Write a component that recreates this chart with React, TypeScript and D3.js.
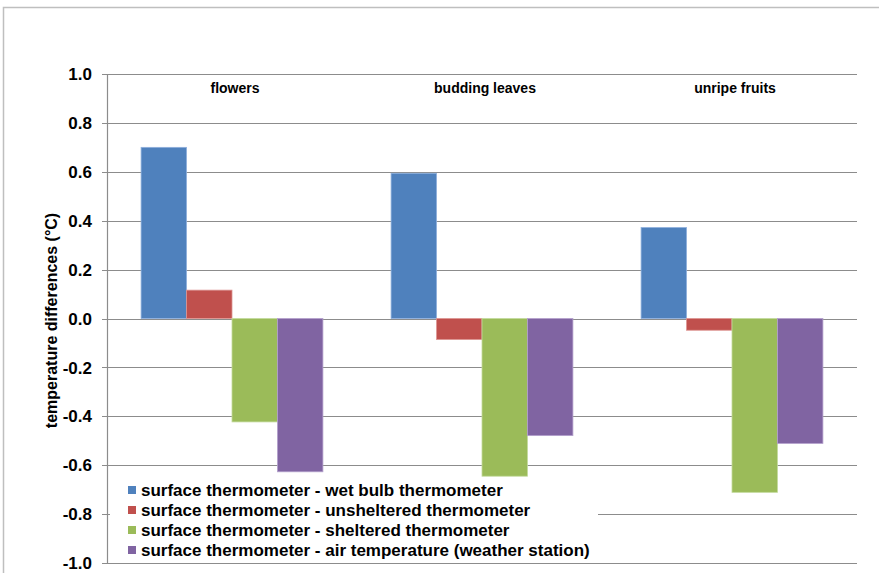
import React, { useEffect, useRef } from "react";
import * as d3 from "d3";

const categories = ["flowers", "budding leaves", "unripe fruits"];
const seriesNames = [
  "surface thermometer - wet bulb thermometer",
  "surface thermometer - unsheltered thermometer",
  "surface thermometer - sheltered thermometer",
  "surface thermometer - air temperature (weather station)",
];
const wetBulb = [0.7, 0.594, 0.372];
const unsheltered = [0.116, -0.086, -0.048];
const sheltered = [-0.423, -0.645, -0.711];
const airTemp = [-0.627, -0.479, -0.511];
const seriesValues = [wetBulb, unsheltered, sheltered, airTemp];
const colors = ["#4F81BD", "#C0504D", "#9BBB59", "#8064A2"];
const strokes = ["#8EAFDC", "#DC9492", "#C3DA9C", "#B3A0CC"];
const yTicks = [1.0, 0.8, 0.6, 0.4, 0.2, 0.0, -0.2, -0.4, -0.6, -0.8, -1.0];
const yLabel = "temperature differences (°C)";

export default function App() {
  const ref = useRef<SVGSVGElement>(null);
  useEffect(() => {
    const svg = d3.select(ref.current);
    svg.selectAll("*").remove();
    const W = 879, H = 573;
    const left = 107, right = 857, top = 74, bottom = 563;
    const font = "Liberation Sans, Arial, sans-serif";

    // outer chart border
    svg.append("rect").attr("x", 3.5).attr("y", 7.5).attr("width", W).attr("height", H)
      .attr("fill", "white").attr("stroke", "#BFBFBF").attr("stroke-width", 1.5);

    const y = d3.scaleLinear().domain([-1, 1]).range([bottom, top]);
    const x0 = d3.scaleBand().domain(categories).range([left, right]).paddingInner(0).paddingOuter(0);
    const x1 = d3.scaleBand().domain(seriesNames).range([0, x0.bandwidth()]).paddingOuter(0.75).paddingInner(0);

    // gridlines
    svg.append("g").selectAll("line").data(yTicks).join("line")
      .attr("x1", left - 5).attr("x2", right)
      .attr("y1", (d) => Math.round(y(d)) + 0.5).attr("y2", (d) => Math.round(y(d)) + 0.5)
      .attr("stroke", "#8C8C8C").attr("stroke-width", 1.2);

    // y axis line
    svg.append("line").attr("x1", left + 0.5).attr("x2", left + 0.5)
      .attr("y1", top).attr("y2", bottom + 1).attr("stroke", "#8C8C8C").attr("stroke-width", 1.2);

    // bars
    const g = svg.append("g");
    seriesValues.forEach((vals, si) => {
      g.selectAll(`rect.s${si}`).data(vals).join("rect")
        .attr("class", `s${si}`)
        .attr("x", (_, i) => (x0(categories[i]) as number) + (x1(seriesNames[si]) as number))
        .attr("width", x1.bandwidth())
        .attr("y", (d) => y(Math.max(0, d)))
        .attr("height", (d) => Math.abs(y(d) - y(0)))
        .attr("fill", colors[si])
        .attr("stroke", strokes[si]).attr("stroke-width", 0.8);
    });

    // tick labels
    svg.append("g").selectAll("text").data(yTicks).join("text")
      .attr("x", 92).attr("y", (d) => y(d)).attr("dy", "0.36em")
      .attr("text-anchor", "end").attr("font-family", font).attr("font-weight", "bold")
      .attr("font-size", 17).attr("fill", "#000")
      .text((d) => d3.format(".1f")(d).replace("\u2212", "-"));

    // y axis label
    svg.append("text").attr("transform", `translate(57,${y(0) + 2}) rotate(-90)`)
      .attr("text-anchor", "middle").attr("font-family", font).attr("font-weight", "bold")
      .attr("font-size", 16).attr("fill", "#000").text(yLabel);

    // category labels
    svg.append("g").selectAll("text").data(categories).join("text")
      .attr("x", (d) => (x0(d) as number) + x0.bandwidth() / 2 + 3)
      .attr("y", 93).attr("text-anchor", "middle").attr("font-family", font)
      .attr("font-weight", "bold").attr("font-size", 14).attr("fill", "#000")
      .text((d) => d);

    // legend
    const lg = svg.append("g");
    lg.append("rect").attr("x", 110).attr("y", 477).attr("width", 488).attr("height", 83).attr("fill", "white");
    seriesNames.forEach((name, i) => {
      const cy = 490 + i * 20;
      lg.append("rect").attr("x", 128).attr("y", cy - 4).attr("width", 8).attr("height", 8).attr("fill", colors[i]);
      lg.append("text").attr("x", 141).attr("y", cy).attr("dy", "0.36em")
        .attr("font-family", font).attr("font-weight", "bold").attr("font-size", 17).attr("fill", "#000")
        .text(name);
    });
  }, []);
  return (
    <svg ref={ref} width={879} height={573}
      style={{ position: "absolute", left: 0, top: 0, display: "block" }} />
  );
}
